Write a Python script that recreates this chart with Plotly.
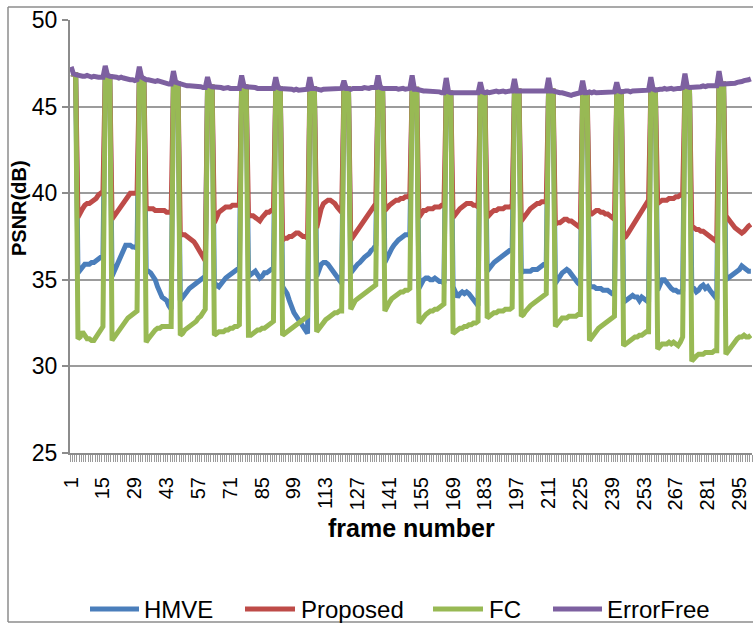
import plotly.graph_objects as go

# PSNR per frame, grouped in 15-frame refresh periods (frames 1-15, 16-30, ... 286-300).
# errorfree: all 15 frames of each period.
errorfree = [
    [47.3, 46.9, 46.85, 46.8, 46.8, 46.75, 46.75, 46.8, 46.75, 46.7, 46.75, 46.7, 46.7, 46.7, 46.7],
    [47.35, 46.8, 46.75, 46.75, 46.7, 46.7, 46.65, 46.7, 46.65, 46.6, 46.6, 46.55, 46.55, 46.5, 46.55],
    [47.3, 46.7, 46.6, 46.55, 46.55, 46.5, 46.5, 46.45, 46.5, 46.45, 46.4, 46.35, 46.3, 46.3, 46.3],
    [47.05, 46.4, 46.35, 46.3, 46.3, 46.25, 46.2, 46.2, 46.2, 46.15, 46.15, 46.15, 46.15, 46.1, 46.1],
    [46.7, 46.2, 46.15, 46.15, 46.1, 46.1, 46.1, 46.05, 46.1, 46.1, 46.05, 46.05, 46.0, 46.05, 46.05],
    [46.8, 46.2, 46.15, 46.15, 46.1, 46.1, 46.1, 46.05, 46.05, 46.0, 46.0, 46.0, 46.05, 46.0, 46.05],
    [46.7, 46.1, 46.05, 46.05, 46.0, 46.0, 46.0, 46.0, 45.95, 46.0, 45.95, 45.95, 46.0, 46.0, 46.0],
    [46.7, 46.05, 46.05, 46.0, 46.0, 45.95, 46.0, 46.0, 46.0, 46.05, 46.0, 46.05, 46.05, 46.05, 46.05],
    [46.5, 46.05, 46.05, 46.0, 46.05, 46.05, 46.0, 46.05, 46.05, 46.1, 46.05, 46.05, 46.1, 46.1, 46.1],
    [46.8, 46.1, 46.05, 46.05, 46.1, 46.1, 46.05, 46.1, 46.05, 46.0, 46.05, 46.05, 46.0, 46.05, 46.05],
    [46.8, 46.0, 46.0, 45.95, 45.95, 45.9, 45.9, 45.9, 45.85, 45.85, 45.9, 45.85, 45.85, 45.8, 45.8],
    [46.65, 45.85, 45.8, 45.8, 45.8, 45.75, 45.8, 45.75, 45.75, 45.8, 45.75, 45.8, 45.75, 45.8, 45.8],
    [46.4, 45.85, 45.8, 45.85, 45.8, 45.85, 45.85, 45.9, 45.85, 45.9, 45.9, 45.85, 45.9, 45.9, 45.9],
    [46.6, 45.9, 45.9, 45.85, 45.9, 45.9, 45.85, 45.9, 45.9, 45.85, 45.9, 45.85, 45.9, 45.9, 45.9],
    [46.65, 45.9, 45.9, 45.85, 45.85, 45.8, 45.8, 45.75, 45.7, 45.7, 45.65, 45.7, 45.75, 45.75, 45.8],
    [46.5, 45.8, 45.8, 45.85, 45.8, 45.85, 45.8, 45.8, 45.85, 45.8, 45.85, 45.8, 45.85, 45.85, 45.85],
    [46.4, 45.9, 45.85, 45.9, 45.9, 45.9, 45.85, 45.9, 45.9, 45.95, 45.9, 45.9, 45.95, 45.95, 45.95],
    [46.7, 46.0, 45.95, 46.0, 46.0, 46.0, 46.05, 46.0, 46.05, 46.05, 46.0, 46.05, 46.05, 46.05, 46.1],
    [46.9, 46.15, 46.1, 46.1, 46.15, 46.15, 46.1, 46.15, 46.2, 46.15, 46.2, 46.2, 46.25, 46.25, 46.2],
    [47.05, 46.3, 46.3, 46.3, 46.3, 46.35, 46.3, 46.35, 46.4, 46.4, 46.45, 46.5, 46.5, 46.55, 46.6],
]

# Concealment methods: the 12 damaged frames of each period (frames 4-15 of the period).
hmve_low = [
    [35.4, 35.6, 35.8, 35.9, 35.9, 35.9, 36.0, 36.0, 36.1, 36.2, 36.3, 36.4],
    [35.2, 35.5, 35.8, 36.2, 36.5, 36.8, 37.0, 37.0, 37.0, 36.9, 36.9, 36.8],
    [35.5, 35.5, 35.4, 35.2, 35.0, 34.6, 34.2, 34.0, 33.9, 33.8, 33.5, 33.3],
    [33.8, 34.0, 34.2, 34.4, 34.5, 34.6, 34.7, 34.8, 34.9, 35.0, 35.1, 35.2],
    [34.6, 34.7, 34.6, 34.8, 35.0, 35.1, 35.2, 35.3, 35.4, 35.5, 35.6, 35.6],
    [35.5, 35.3, 35.4, 35.5, 35.3, 35.1, 35.2, 35.4, 35.4, 35.5, 35.6, 35.7],
    [34.6, 34.4, 34.2, 33.8, 33.4, 33.1, 32.9, 32.7, 32.5, 32.3, 32.1, 31.9],
    [35.2, 35.6, 35.9, 36.0, 36.0, 35.9, 35.7, 35.5, 35.3, 35.1, 34.9, 34.8],
    [35.4, 35.6, 35.8, 35.9, 36.0, 36.2, 36.3, 36.4, 36.5, 36.7, 36.8, 37.0],
    [36.0, 36.3, 36.6, 36.8, 37.0, 37.2, 37.3, 37.4, 37.5, 37.6, 37.6, 37.6],
    [34.5, 34.8, 35.0, 35.1, 35.1, 35.0, 35.0, 35.1, 35.0, 34.9, 34.9, 34.8],
    [34.6, 34.2, 34.0, 34.2, 34.3, 34.2, 34.3, 34.2, 34.0, 33.8, 33.6, 33.5],
    [35.5, 35.7, 35.9, 36.0, 36.1, 36.2, 36.3, 36.4, 36.5, 36.6, 36.7, 36.8],
    [35.4, 35.5, 35.5, 35.5, 35.5, 35.6, 35.6, 35.6, 35.7, 35.8, 35.9, 36.0],
    [34.8, 35.0, 35.3, 35.4, 35.5, 35.6, 35.5, 35.3, 35.1, 34.9, 34.8, 34.7],
    [34.6, 34.6, 34.6, 34.5, 34.5, 34.5, 34.4, 34.4, 34.4, 34.3, 34.2, 34.2],
    [33.7, 33.8, 33.9, 34.0, 34.1, 34.0, 34.0, 33.8, 34.0, 33.9, 33.8, 33.7],
    [34.4, 34.8, 35.0, 35.0, 34.8, 34.6, 34.5, 34.4, 34.4, 34.3, 34.3, 34.4],
    [34.6, 34.5, 34.3, 34.4, 34.6, 34.7, 34.5, 34.6, 34.4, 34.2, 34.0, 33.9],
    [35.0, 35.1, 35.2, 35.3, 35.4, 35.5, 35.6, 35.8, 35.7, 35.6, 35.5, 35.5],
]

proposed_low = [
    [38.6, 38.9, 39.1, 39.3, 39.4, 39.4, 39.5, 39.6, 39.7, 39.9, 40.0, 40.1],
    [38.5, 38.7, 38.9, 39.1, 39.3, 39.5, 39.7, 39.9, 40.0, 40.0, 40.0, 40.0],
    [39.2, 39.1, 39.1, 39.1, 39.0, 39.0, 39.0, 39.0, 39.0, 38.9, 38.9, 38.9],
    [37.7, 37.6, 37.6, 37.5, 37.4, 37.3, 37.2, 37.0, 36.8, 36.6, 36.3, 36.1],
    [38.3, 38.6, 38.9, 39.0, 39.1, 39.2, 39.2, 39.2, 39.3, 39.3, 39.3, 39.3],
    [38.8, 38.7, 38.7, 38.6, 38.5, 38.4, 38.6, 38.8, 38.9, 38.9, 39.0, 39.0],
    [37.3, 37.4, 37.4, 37.5, 37.5, 37.6, 37.7, 37.7, 37.6, 37.5, 37.5, 37.4],
    [38.0, 38.6, 39.1, 39.4, 39.5, 39.6, 39.6, 39.5, 39.4, 39.2, 39.0, 38.9],
    [37.3, 37.5, 37.7, 37.9, 38.1, 38.3, 38.5, 38.7, 38.9, 39.0, 39.2, 39.4],
    [39.0, 39.2, 39.3, 39.4, 39.5, 39.6, 39.6, 39.7, 39.7, 39.8, 39.8, 39.9],
    [38.6, 38.8, 39.0, 39.0, 39.1, 39.1, 39.1, 39.2, 39.2, 39.2, 39.3, 39.3],
    [38.6, 38.8, 39.0, 39.1, 39.2, 39.3, 39.4, 39.4, 39.4, 39.3, 39.3, 39.2],
    [38.6, 38.8, 38.9, 39.0, 39.0, 39.1, 39.1, 39.1, 39.2, 39.2, 39.2, 39.3],
    [38.4, 38.6, 38.8, 39.0, 39.1, 39.2, 39.3, 39.4, 39.4, 39.5, 39.5, 39.5],
    [38.2, 38.3, 38.3, 38.4, 38.5, 38.5, 38.4, 38.4, 38.3, 38.2, 38.1, 38.0],
    [38.8, 38.8, 38.9, 39.0, 39.0, 38.9, 38.9, 38.8, 38.8, 38.7, 38.6, 38.5],
    [37.4, 37.5, 37.7, 37.9, 38.1, 38.4, 38.6, 38.8, 39.0, 39.2, 39.4, 39.6],
    [39.4, 39.5, 39.6, 39.6, 39.6, 39.7, 39.7, 39.7, 39.8, 39.8, 39.9, 39.9],
    [38.1, 38.0, 37.9, 37.9, 37.8, 37.8, 37.7, 37.6, 37.5, 37.4, 37.3, 37.2],
    [38.7, 38.5, 38.3, 38.1, 38.0, 37.9, 37.8, 37.7, 37.8, 38.0, 38.1, 38.2],
]

fc_low = [
    [31.6, 31.7, 32.0, 31.8, 31.6, 31.6, 31.5, 31.5, 31.7, 31.9, 32.2, 32.3],
    [31.5, 31.7, 31.9, 32.1, 32.3, 32.5, 32.6, 32.8, 32.9, 33.0, 33.1, 33.2],
    [31.4, 31.6, 31.8, 32.0, 32.1, 32.2, 32.2, 32.3, 32.3, 32.3, 32.3, 32.3],
    [31.8, 31.9, 32.1, 32.2, 32.3, 32.4, 32.5, 32.6, 32.8, 32.9, 33.1, 33.3],
    [31.8, 31.9, 32.0, 32.0, 32.0, 32.1, 32.1, 32.2, 32.2, 32.3, 32.3, 32.4],
    [31.8, 31.8, 31.9, 32.0, 32.1, 32.1, 32.2, 32.2, 32.3, 32.4, 32.5, 32.6],
    [31.8, 31.9, 32.0, 32.1, 32.2, 32.3, 32.4, 32.5, 32.6, 32.7, 32.8, 32.9],
    [32.0, 32.2, 32.4, 32.6, 32.7, 32.8, 32.9, 33.0, 33.1, 33.1, 33.2, 33.2],
    [33.3, 33.6, 33.8, 33.9, 34.0, 34.1, 34.2, 34.3, 34.4, 34.5, 34.6, 34.7],
    [33.2, 33.5, 33.7, 33.9, 34.0, 34.1, 34.2, 34.3, 34.3, 34.4, 34.4, 34.5],
    [32.5, 32.7, 32.9, 33.0, 33.1, 33.2, 33.2, 33.3, 33.3, 33.4, 33.5, 33.6],
    [31.9, 32.0, 32.1, 32.2, 32.2, 32.3, 32.3, 32.4, 32.4, 32.5, 32.5, 32.6],
    [32.8, 32.9, 33.0, 33.1, 33.1, 33.2, 33.2, 33.2, 33.3, 33.3, 33.3, 33.4],
    [32.9, 33.0, 33.2, 33.4, 33.5, 33.6, 33.7, 33.8, 33.9, 34.0, 34.1, 34.2],
    [32.3, 32.5, 32.7, 32.8, 32.8, 32.8, 32.9, 32.9, 32.9, 32.9, 33.0, 33.0],
    [31.5, 31.7, 31.9, 32.0, 32.2, 32.3, 32.4, 32.5, 32.6, 32.7, 32.8, 32.9],
    [31.2, 31.3, 31.4, 31.5, 31.6, 31.7, 31.7, 31.8, 31.8, 31.9, 32.0, 32.0],
    [31.0, 31.2, 31.3, 31.3, 31.3, 31.4, 31.3, 31.4, 31.3, 31.2, 31.4, 31.7],
    [30.3, 30.5, 30.6, 30.7, 30.7, 30.7, 30.8, 30.8, 30.8, 30.8, 30.9, 30.9],
    [30.7, 30.9, 31.1, 31.3, 31.5, 31.6, 31.7, 31.7, 31.8, 31.7, 31.7, 31.8],
]

x_ticks = list(range(1, 300, 14))
series_names = ["HMVE", "Proposed", "FC", "ErrorFree"]
series_colors = ["#4A7EBB", "#BE4B48", "#98B954", "#7D60A0"]


def with_refresh(low_parts):
    # The first three frames of every period are intra-refreshed and decode
    # at the error-free level; the rest come from the concealment method.
    out = []
    for period, low in zip(errorfree, low_parts):
        out += [period[1], period[1], period[2]] + low
    return out


frames = list(range(1, 301))
errorfree_series = [v for period in errorfree for v in period]
series_values = [
    with_refresh(hmve_low),
    with_refresh(proposed_low),
    with_refresh(fc_low),
    errorfree_series,
]

FONT = "Liberation Sans, Arial, Helvetica, sans-serif"
LINE_W = 5

fig = go.Figure()
for name, color, ys in zip(series_names, series_colors, series_values):
    fig.add_trace(go.Scatter(
        x=frames, y=ys, name=name, mode="lines",
        line=dict(color=color, width=LINE_W),
        showlegend=False,
    ))

W, H = 753, 625
L, R, T, B = 70, 1, 20, 172
pw, ph = W - L - R, H - T - B


def px_x(px):
    return (px - L) / pw


def px_y(py):
    return (H - B - py) / ph


fig.update_layout(
    width=W, height=H,
    margin=dict(l=L, r=R, t=T, b=B, pad=0),
    paper_bgcolor="white", plot_bgcolor="white",
    font=dict(family=FONT, color="black"),
    showlegend=False,
    xaxis=dict(
        range=[0.5, 300.5], tickmode="array", tickvals=x_ticks,
        ticktext=[str(v) for v in x_ticks], tickangle=-90,
        tickfont=dict(size=20, family=FONT),
        ticks="outside", ticklen=14, tickcolor="rgba(0,0,0,0)",
        minor=dict(tick0=0.5, dtick=1, ticks="outside", ticklen=7,
                   tickcolor="#9a9a9a", tickwidth=1, showgrid=False),
        showgrid=False, zeroline=False,
        showline=True, linecolor="#8c8c8c", linewidth=2,
    ),
    yaxis=dict(
        range=[25, 50], tick0=25, dtick=5,
        tickfont=dict(size=23, family=FONT),
        ticks="outside", ticklen=6, tickcolor="#8c8c8c", tickwidth=1.5,
        showgrid=True, gridcolor="#9c9c9c", gridwidth=1.5,
        zeroline=False,
        showline=True, linecolor="#8c8c8c", linewidth=2,
    ),
)

# Axis titles
fig.add_annotation(
    text="<b>frame number</b>", xref="paper", yref="paper",
    x=px_x(411), y=px_y(528), xanchor="center", yanchor="middle",
    showarrow=False, font=dict(size=25, family=FONT, color="black"),
)
fig.add_annotation(
    text="<b>PSNR(dB)</b>", xref="paper", yref="paper",
    x=px_x(19), y=px_y(208), xanchor="center", yanchor="middle",
    textangle=-90, showarrow=False,
    font=dict(size=20, family=FONT, color="black"),
)

# Legend row under the axis title: line sample followed by the series name
legend_line_x = [(90, 139), (245, 295), (433, 483), (553, 602)]
legend_text_x = [142, 299, 487, 605]
legend_y = 609
for name, color, (lx0, lx1), tx in zip(series_names, series_colors,
                                        legend_line_x, legend_text_x):
    fig.add_shape(
        type="line", xref="paper", yref="paper",
        x0=px_x(lx0), x1=px_x(lx1), y0=px_y(legend_y), y1=px_y(legend_y),
        line=dict(color=color, width=LINE_W),
    )
    fig.add_annotation(
        text=name, xref="paper", yref="paper",
        x=px_x(tx), y=px_y(legend_y), xanchor="left", yanchor="middle",
        showarrow=False, font=dict(size=24, family=FONT, color="black"),
    )

# Chart-area frame: left, top and bottom edges
for x0, y0, x1, y1 in [(8, 7, 8, 622), (8, 7, 753, 7), (8, 622, 753, 622)]:
    fig.add_shape(
        type="line", xref="paper", yref="paper",
        x0=px_x(x0), x1=px_x(x1), y0=px_y(y0), y1=px_y(y1),
        line=dict(color="#8c8c8c", width=1.5), layer="below",
    )

fig.write_html("out.html")
